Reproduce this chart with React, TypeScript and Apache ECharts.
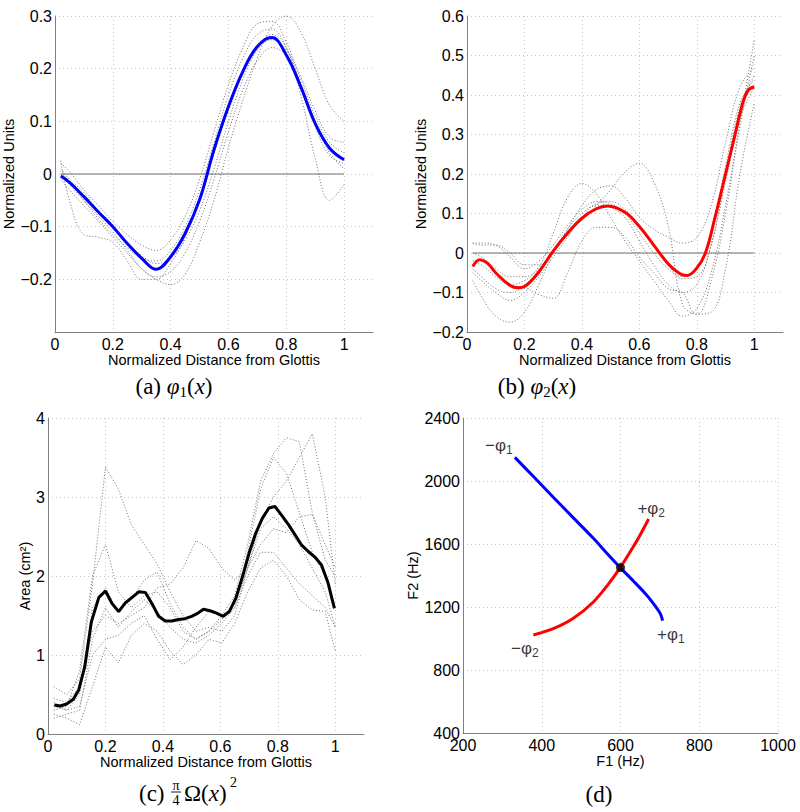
import React, { useEffect, useRef } from 'react';
import * as echarts from 'echarts';

// ---------- Panel (a): phi1 ----------
const xPhi = [0.02, 0.05, 0.1, 0.15, 0.2, 0.25, 0.3, 0.35, 0.4, 0.45, 0.5, 0.55, 0.6, 0.65, 0.7, 0.75, 0.8, 0.85, 0.9, 0.95, 1.0];
const phi1Mean = [-0.004, -0.016, -0.043, -0.072, -0.1, -0.132, -0.16, -0.181, -0.157, -0.113, -0.049, 0.046, 0.128, 0.195, 0.242, 0.259, 0.226, 0.166, 0.096, 0.049, 0.027];
const phi1Gray1 = [0.02, 0.005, -0.03, -0.06, -0.09, -0.115, -0.135, -0.145, -0.125, -0.08, -0.01, 0.08, 0.17, 0.24, 0.285, 0.29, 0.25, 0.18, 0.11, 0.06, 0.04];
const phi1Gray2 = [0.0, -0.02, -0.05, -0.08, -0.11, -0.145, -0.18, -0.2, -0.21, -0.19, -0.13, -0.05, 0.05, 0.14, 0.22, 0.28, 0.3, 0.27, 0.2, 0.13, 0.1];
const phi1Gray3 = [0.025, -0.05, -0.115, -0.12, -0.13, -0.165, -0.2, -0.2, -0.17, -0.12, -0.05, 0.04, 0.12, 0.19, 0.24, 0.265, 0.24, 0.15, 0.03, -0.05, -0.02];
const phi1Gray4 = [0.01, -0.01, -0.035, -0.07, -0.1, -0.13, -0.155, -0.17, -0.16, -0.125, -0.07, 0.01, 0.1, 0.18, 0.235, 0.255, 0.235, 0.185, 0.12, 0.07, 0.06];
const phi1Gray5 = [-0.01, -0.03, -0.06, -0.09, -0.12, -0.15, -0.18, -0.195, -0.185, -0.15, -0.09, -0.01, 0.08, 0.16, 0.215, 0.24, 0.225, 0.17, 0.1, 0.04, 0.01];
const phi1Gray6 = [0.005, -0.015, -0.05, -0.085, -0.115, -0.14, -0.16, -0.165, -0.145, -0.1, -0.03, 0.06, 0.15, 0.22, 0.265, 0.275, 0.24, 0.17, 0.09, 0.035, 0.02];
const phi1Grays = [phi1Gray1, phi1Gray2, phi1Gray3, phi1Gray4, phi1Gray5, phi1Gray6];

// ---------- Panel (b): phi2 ----------
const xPhi2Mean = [0.02, 0.045, 0.07, 0.1, 0.15, 0.178, 0.2, 0.25, 0.3, 0.35, 0.4, 0.45, 0.49, 0.55, 0.6, 0.65, 0.7, 0.74, 0.765, 0.8, 0.83, 0.86, 0.9, 0.93, 0.96, 0.98, 1.0];
const phi2Mean = [-0.034, -0.017, -0.025, -0.05, -0.082, -0.088, -0.085, -0.048, 0.005, 0.05, 0.088, 0.112, 0.119, 0.103, 0.067, 0.02, -0.027, -0.052, -0.057, -0.038, 0.0, 0.08, 0.2, 0.29, 0.38, 0.413, 0.421];
const phi2Gray1 = [-0.02, -0.03, -0.06, -0.08, -0.07, -0.04, 0.005, 0.05, 0.085, 0.12, 0.16, 0.205, 0.227, 0.18, 0.07, -0.13, -0.155, -0.07, 0.1, 0.32, 0.5];
const phi2Gray2 = [0.0, -0.01, -0.04, -0.06, -0.06, -0.035, 0.05, 0.14, 0.176, 0.15, 0.09, 0.03, -0.02, -0.07, -0.12, -0.16, -0.14, -0.05, 0.12, 0.33, 0.54];
const phi2Gray3 = [0.025, 0.02, 0.02, 0.0, -0.03, -0.03, 0.0, 0.06, 0.12, 0.16, 0.17, 0.14, 0.09, 0.06, 0.04, 0.025, 0.04, 0.12, 0.28, 0.42, 0.47];
const phi2Gray4 = [0.025, 0.025, 0.02, -0.01, -0.04, -0.02, 0.02, 0.07, 0.11, 0.13, 0.125, 0.1, 0.05, 0.0, -0.04, -0.06, -0.04, 0.05, 0.22, 0.38, 0.44];
const phi2Gray5 = [-0.07, -0.11, -0.16, -0.175, -0.15, -0.08, 0.0, 0.06, 0.1, 0.12, 0.115, 0.09, 0.03, -0.03, -0.08, -0.1, -0.08, 0.02, 0.18, 0.34, 0.42];
const phi2Gray6 = [-0.04, -0.06, -0.09, -0.1, -0.09, -0.105, -0.115, -0.05, 0.03, 0.065, 0.065, 0.04, -0.01, -0.05, -0.09, -0.1, -0.155, -0.15, -0.04, 0.2, 0.38];
const phi2Gray7 = [-0.05, -0.07, -0.1, -0.12, -0.1, -0.06, -0.01, 0.04, 0.09, 0.125, 0.13, 0.11, 0.07, 0.02, -0.03, -0.065, -0.06, 0.02, 0.2, 0.37, 0.45];
const phi2Grays = [phi2Gray1, phi2Gray2, phi2Gray3, phi2Gray4, phi2Gray5, phi2Gray6, phi2Gray7];

const zeroLineX = [0.02, 1.0];
const zeroLineY = [0, 0];

// ---------- Panel (c): area ----------
const xArea = [0.022, 0.042, 0.065, 0.088, 0.107, 0.128, 0.151, 0.177, 0.2, 0.223, 0.246, 0.269, 0.296, 0.316, 0.339, 0.362, 0.385, 0.408, 0.431, 0.454, 0.477, 0.5, 0.522, 0.541, 0.564, 0.587, 0.61, 0.631, 0.654, 0.677, 0.7, 0.723, 0.746, 0.769, 0.79, 0.813, 0.837, 0.86, 0.883, 0.906, 0.929, 0.952, 0.975, 0.997];
const areaMean = [0.367, 0.354, 0.38, 0.44, 0.557, 0.852, 1.42, 1.73, 1.81, 1.65, 1.55, 1.66, 1.74, 1.8, 1.79, 1.65, 1.49, 1.43, 1.43, 1.45, 1.46, 1.49, 1.53, 1.58, 1.56, 1.53, 1.49, 1.55, 1.72, 1.99, 2.29, 2.54, 2.73, 2.86, 2.88, 2.77, 2.65, 2.52, 2.39, 2.31, 2.24, 2.14, 1.91, 1.59];
const xAreaGray = [0.02, 0.065, 0.11, 0.155, 0.2, 0.245, 0.29, 0.335, 0.38, 0.425, 0.47, 0.515, 0.56, 0.605, 0.65, 0.695, 0.74, 0.785, 0.83, 0.875, 0.92, 0.965, 1.0];
const areaGray1 = [0.6, 0.5, 0.7, 1.9, 3.38, 3.1, 2.65, 2.4, 2.15, 1.8, 1.5, 1.3, 1.35, 1.3, 1.5, 2.1, 2.6, 2.75, 2.6, 2.4, 2.1, 1.8, 1.35];
const areaGray2 = [0.3, 0.35, 0.8, 2.0, 2.4, 1.8, 1.6, 1.75, 1.8, 1.6, 1.3, 1.2, 1.3, 1.45, 1.65, 2.3, 3.1, 3.5, 3.3, 2.8, 2.3, 2.0, 1.6];
const areaGray3 = [0.2, 0.25, 0.3, 1.2, 1.6, 1.35, 1.55, 1.7, 1.55, 1.35, 1.2, 1.15, 1.25, 1.4, 1.6, 2.1, 2.7, 3.0, 3.2, 3.5, 3.8, 3.0, 1.9];
const areaGray4 = [0.4, 0.3, 0.5, 1.6, 1.85, 1.55, 1.7, 1.95, 2.05, 1.65, 1.35, 1.2, 1.3, 1.5, 1.75, 2.4, 3.2, 3.55, 3.75, 3.7, 2.8, 2.2, 2.0];
const areaGray5 = [0.45, 0.4, 0.6, 1.3, 1.5, 1.4, 1.5, 1.6, 1.85, 1.9, 2.1, 2.45, 2.35, 2.1, 1.95, 2.1, 2.4, 2.6, 2.55, 2.75, 2.78, 2.4, 2.1];
const areaGray6 = [0.25, 0.2, 0.12, 0.6, 1.1, 0.9, 1.25, 1.4, 1.3, 1.05, 0.88, 1.0, 1.2, 1.15, 1.4, 1.8, 2.1, 2.2, 2.0, 1.7, 1.57, 1.55, 1.05];
const areaGray7 = [0.35, 0.3, 0.35, 1.0, 1.2, 1.25, 1.4, 1.5, 1.2, 0.94, 1.1, 1.35, 1.55, 1.5, 1.6, 2.0, 2.3, 2.3, 2.1, 1.9, 1.75, 1.6, 1.35];
const areaGrays = [areaGray1, areaGray2, areaGray3, areaGray4, areaGray5, areaGray6, areaGray7];

// ---------- Panel (d): formant space ----------
const f1Phi1 = [331.7, 378.3, 429.3, 480.3, 531.2, 565.4, 599.2, 633.1, 667.3, 688.4, 701.1, 707];
const f2Phi1 = [2150, 2030, 1897, 1766, 1636, 1541, 1450, 1364, 1273, 1205, 1158, 1113];
const f1Phi2 = [378.6, 429.3, 480.3, 531.2, 565.4, 599.2, 633.1, 650.2, 671.4];
const f2Phi2 = [1022, 1062, 1128, 1232, 1333, 1450, 1585, 1659, 1759];
const neutralF1 = [600];
const neutralF2 = [1450];
const labelSign = ['−', '+', '+', '−'];
const labelIndex = ['1', '2', '1', '2'];
const labelF1 = [291, 678, 728, 357];
const labelF2 = [2216, 1822, 1022, 927];

const SANS = 'Liberation Sans, Arial, Helvetica, sans-serif';
const SERIF = 'Liberation Serif, Times New Roman, serif';
const TXT = '#000';
const AXIS_COLOR = '#808080';
const GRID_STYLE = { color: '#c6c6c6', width: 1, type: [1, 3] as number[] };

const zip = (xs: number[], ys: number[]) => xs.map((x, i) => [x, ys[i]]);
const fmt = (v: number) => {
  const r = Math.round(v * 1000) / 1000;
  return r < 0 ? '−' + String(-r) : String(r);
};

function xAx(g: number, min: number, max: number, interval: number, name: string, gap: number, showMax: boolean) {
  return {
    gridIndex: g, type: 'value', min, max, interval,
    name, nameLocation: 'middle', nameGap: gap,
    nameTextStyle: { fontFamily: SANS, fontSize: 14.5, color: TXT },
    axisLine: { show: true, onZero: false, lineStyle: { color: AXIS_COLOR, width: 1 } },
    axisTick: { show: false },
    axisLabel: { showMaxLabel: showMax, showMinLabel: true, fontFamily: SANS, fontSize: 16, color: TXT, margin: 4, formatter: fmt },
    splitLine: { show: true, showMinLine: false, showMaxLine: showMax, lineStyle: GRID_STYLE },
  };
}
function yAx(g: number, min: number, max: number, interval: number, name: string, gap: number, showMin: boolean) {
  return {
    gridIndex: g, type: 'value', min, max, interval,
    name, nameLocation: 'middle', nameGap: gap,
    nameTextStyle: { fontFamily: SANS, fontSize: 14.5, color: TXT },
    axisLine: { show: true, onZero: false, lineStyle: { color: AXIS_COLOR, width: 1 } },
    axisTick: { show: false },
    axisLabel: { showMinLabel: showMin, showMaxLabel: true, fontFamily: SANS, fontSize: 16, color: TXT, margin: 3, formatter: fmt },
    splitLine: { show: true, showMinLine: false, showMaxLine: true, lineStyle: GRID_STYLE },
  };
}

function grayLine(g: number, xs: number[], ys: number[], smooth: boolean | number) {
  return {
    type: 'line', xAxisIndex: g, yAxisIndex: g, data: zip(xs, ys), symbol: 'none', smooth,
    silent: true, z: 2, lineStyle: { color: '#707070', width: 1, type: [1, 2] },
  };
}
function mainLine(g: number, xs: number[], ys: number[], color: string, smooth: boolean | number) {
  return {
    type: 'line', xAxisIndex: g, yAxisIndex: g, data: zip(xs, ys), symbol: 'none', smooth,
    silent: true, z: 4, lineStyle: { color, width: 3 },
  };
}
function zeroLine(g: number) {
  return {
    type: 'line', xAxisIndex: g, yAxisIndex: g, data: zip(zeroLineX, zeroLineY), symbol: 'none',
    silent: true, z: 3, lineStyle: { color: '#6e6e6e', width: 1 },
  };
}

const capRich = {
  r: { fontFamily: SERIF, fontSize: 23, fill: '#000', verticalAlign: 'top' },
  i: { fontFamily: SERIF, fontSize: 23, fontStyle: 'italic', fill: '#000', verticalAlign: 'top' },
  s: { fontFamily: SERIF, fontSize: 15, fill: '#000', verticalAlign: 'top', padding: [10, 0, 0, 0] },
};

export default function App() {
  const ref = useRef<HTMLDivElement>(null);
  useEffect(() => {
    if (!ref.current) return;
    const chart = echarts.init(ref.current, undefined, { renderer: 'svg' });
    const series: any[] = [];
    phi1Grays.forEach((ys) => series.push(grayLine(0, xPhi, ys, 0.4)));
    series.push(zeroLine(0));
    series.push(mainLine(0, xPhi, phi1Mean, '#0000ff', 0.4));
    phi2Grays.forEach((ys) => series.push(grayLine(1, xPhi, ys, 0.4)));
    series.push(zeroLine(1));
    series.push(mainLine(1, xPhi2Mean, phi2Mean, '#ff0000', 0.4));
    areaGrays.forEach((ys) => series.push(grayLine(2, xAreaGray, ys, false)));
    series.push(mainLine(2, xArea, areaMean, '#000000', false));
    series.push(mainLine(3, f1Phi1, f2Phi1, '#0000ff', 0.3));
    series.push(mainLine(3, f1Phi2, f2Phi2, '#ff0000', 0.3));
    series.push({
      type: 'scatter', xAxisIndex: 3, yAxisIndex: 3, data: zip(neutralF1, neutralF2),
      symbolSize: 9, itemStyle: { color: '#000' }, z: 6, silent: true,
    });
    series.push({
      type: 'scatter', xAxisIndex: 3, yAxisIndex: 3, silent: true, z: 6,
      data: labelF1.map((f1, i) => ({ value: [f1, labelF2[i]], name: labelSign[i] + '|' + labelIndex[i] })),
      symbolSize: 1, itemStyle: { color: 'rgba(0,0,0,0)' },
      labelLayout: { hideOverlap: false },
      label: {
        show: true, position: 'inside', color: '#000',
        formatter: (p: any) => {
          const [s, n] = String(p.name).split('|');
          return '{m|' + s + 'φ}{s|' + n + '}';
        },
        rich: {
          m: { fontFamily: SANS, fontSize: 17, color: '#000', verticalAlign: 'top' },
          s: { fontFamily: SANS, fontSize: 12, color: '#000', verticalAlign: 'top', padding: [7, 0, 0, 0] },
        },
      },
    });

    const option: any = {
      animation: false,
      backgroundColor: '#ffffff',
      grid: [
        { left: 55, top: 16, width: 318, height: 316 },
        { left: 467, top: 16, width: 316, height: 316 },
        { left: 48, top: 418, width: 316, height: 316 },
        { left: 463, top: 418, width: 315, height: 315 },
      ],
      xAxis: [
        xAx(0, 0, 1.1, 0.2, 'Normalized Distance from Glottis', 20, false),
        xAx(1, 0, 1.1, 0.2, 'Normalized Distance from Glottis', 20, false),
        xAx(2, 0, 1.1, 0.2, 'Normalized Distance from Glottis', 19, false),
        xAx(3, 200, 1000, 200, 'F1 (Hz)', 20, true),
      ],
      yAxis: [
        yAx(0, -0.3, 0.3, 0.1, 'Normalized Units', 36, false),
        yAx(1, -0.2, 0.6, 0.1, 'Normalized Units', 37, true),
        yAx(2, 0, 4, 1, 'Area (cm²)', 15, true),
        yAx(3, 400, 2400, 400, 'F2 (Hz)', 42, true),
      ],
      series,
      graphic: [
        {
          type: 'text', x: 174, y: 387, silent: true,
          style: { text: '{r|(a) }{i|φ}{s|1}{r|(}{i|x}{r|)}', rich: capRich, align: 'center', verticalAlign: 'middle' },
        },
        {
          type: 'text', x: 537, y: 387, silent: true,
          style: { text: '{r|(b) }{i|φ}{s|2}{r|(}{i|x}{r|)}', rich: capRich, align: 'center', verticalAlign: 'middle' },
        },
        {
          type: 'text', x: 599, y: 794, silent: true,
          style: { text: '(d)', fontFamily: SERIF, fontSize: 23, fill: '#000', align: 'center', verticalAlign: 'middle' },
        },
        {
          type: 'group', silent: true,
          children: [
            { type: 'text', x: 139, y: 793, style: { text: '(c)', fontFamily: SERIF, fontSize: 23, fill: '#000', align: 'left', verticalAlign: 'middle' } },
            { type: 'text', x: 176, y: 785, style: { text: 'π', fontFamily: SERIF, fontSize: 14, fill: '#000', align: 'center', verticalAlign: 'middle' } },
            { type: 'line', shape: { x1: 171, y1: 792, x2: 181, y2: 792 }, style: { stroke: '#000', lineWidth: 0.9 } },
            { type: 'text', x: 176, y: 800, style: { text: '4', fontFamily: SERIF, fontSize: 14, fill: '#000', align: 'center', verticalAlign: 'middle' } },
            {
              type: 'text', x: 184, y: 793,
              style: {
                text: '{r|Ω(}{i|x}{r|)}', align: 'left', verticalAlign: 'middle',
                rich: {
                  r: { fontFamily: SERIF, fontSize: 23, fill: '#000' },
                  i: { fontFamily: SERIF, fontSize: 23, fontStyle: 'italic', fill: '#000' },
                },
              },
            },
            { type: 'text', x: 230, y: 782, style: { text: '2', fontFamily: SERIF, fontSize: 14, fill: '#000', align: 'left', verticalAlign: 'middle' } },
          ],
        },
      ],
    };
    chart.setOption(option);
    return () => chart.dispose();
  }, []);
  return <div ref={ref} style={{ position: 'absolute', left: 0, top: 0, width: 800, height: 812, background: '#fff' }} />;
}
